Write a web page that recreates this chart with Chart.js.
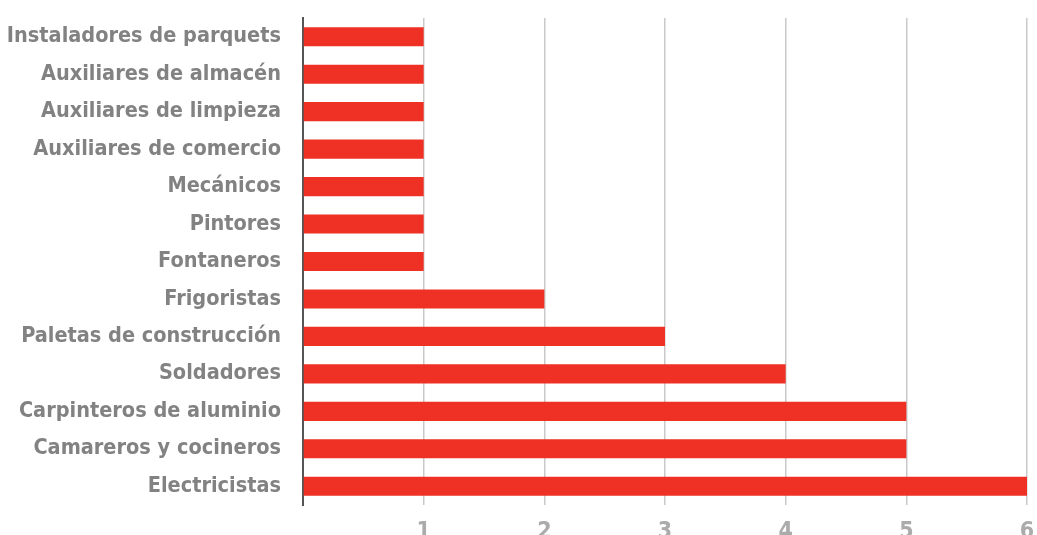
<!DOCTYPE html>
<html>
<head>
<meta charset="utf-8">
<script src="https://cdn.jsdelivr.net/npm/chart.js@4"></script>
<style>
  html, body { margin: 0; padding: 0; background: #fff; }
  #wrap { width: 1037px; height: 535px; }
</style>
</head>
<body>
<div id="wrap"><canvas id="chart"></canvas></div>
<script>
// datos
const oficios = [
  'Instaladores de parquets',
  'Auxiliares de almacén',
  'Auxiliares de limpieza',
  'Auxiliares de comercio',
  'Mecánicos',
  'Pintores',
  'Fontaneros',
  'Frigoristas',
  'Paletas de construcción',
  'Soldadores',
  'Carpinteros de aluminio',
  'Camareros y cocineros',
  'Electricistas'
];
const valores = [1, 1, 1, 1, 1, 1, 1, 2, 3, 4, 5, 5, 6];
const ejeX = [0, 1, 2, 3, 4, 5, 6];

const fuente = '"DejaVu Sans Condensed", "Roboto", sans-serif';

const ctx = document.getElementById('chart').getContext('2d');
new Chart(ctx, {
  type: 'bar',
  data: {
    labels: oficios,
    datasets: [{
      data: valores,
      backgroundColor: '#ee3124',
      borderWidth: 0,
      barPercentage: 0.51,
      categoryPercentage: 1
    }]
  },
  options: {
    indexAxis: 'y',
    responsive: true,
    maintainAspectRatio: false,
    animation: false,
    layout: { padding: { top: 18, right: 10, left: 0, bottom: 0 } },
    plugins: {
      legend: { display: false },
      tooltip: { enabled: false }
    },
    scales: {
      x: {
        min: ejeX[0],
        max: ejeX[ejeX.length - 1],
        afterBuildTicks: function (scale) {
          scale.ticks = ejeX.map(v => ({ value: v }));
        },
        afterFit: function (scale) {
          scale.height = 30;
          scale.paddingLeft = 0;
          scale.paddingRight = 0;
        },
        border: { display: false },
        grid: { color: '#c9c9c9', lineWidth: 1.5, drawTicks: false },
        ticks: {
          padding: 13,
          color: '#ababab',
          font: { family: fuente, size: 23, weight: 'bold' },
          callback: v => (v === 0 ? '' : v)
        }
      },
      y: {
        afterFit: function (scale) {
          scale.width = 303;
          scale.paddingTop = 0;
          scale.paddingBottom = 0;
        },
        border: { display: true, color: '#555555', width: 2 },
        grid: { display: false, drawTicks: false },
        ticks: {
          padding: 22,
          color: '#828282',
          font: { family: fuente, size: 21.5, weight: 'bold' }
        }
      }
    }
  }
});
</script>
</body>
</html>
